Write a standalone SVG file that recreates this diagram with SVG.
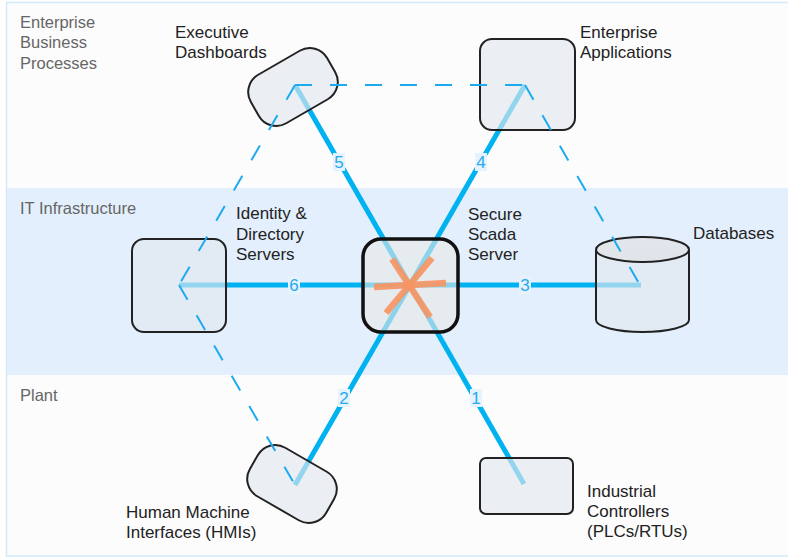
<svg xmlns="http://www.w3.org/2000/svg" width="788" height="559" viewBox="0 0 788 559">
  <style>
    .band-label { font-family: "Liberation Sans", Arial, sans-serif; font-size: 16.5px; fill: #666666; }
    .node-label { font-family: "Liberation Sans", Arial, sans-serif; font-size: 17px; fill: #222222; }
    .num { font-family: "Liberation Sans", Arial, sans-serif; font-size: 17px; fill: #29a9ef; text-anchor: middle; }
    .num-bg { fill: #e4f3fd; }
    .spoke { stroke: #00b2f0; stroke-width: 5; fill: none; stroke-linecap: butt; }
    .dash { stroke: #1eaaf0; stroke-width: 2; fill: none; stroke-dasharray: 17 18; }
    .box { fill: #e2e8ee; fill-opacity: 0.65; stroke: #222222; stroke-width: 2; }
    .hub { fill: #e8e8e8; fill-opacity: 0.6; stroke: #111111; stroke-width: 3.5; }
    .star { stroke: #f79460; stroke-width: 6.5; stroke-opacity: 0.9; fill: none; }
  </style>

  <!-- swim lanes -->
  <g id="lanes">
    <rect x="6.5" y="2.5" width="790" height="553.5" fill="#fcfcfd" stroke="#d3e9f8" stroke-width="1.5"/>
    <rect x="7" y="188" width="781" height="187" fill="#e3effc"/>
    <text class="band-label" x="20" y="28">Enterprise</text>
    <text class="band-label" x="20" y="48">Business</text>
    <text class="band-label" x="20" y="69">Processes</text>
    <text class="band-label" x="20" y="214">IT Infrastructure</text>
    <text class="band-label" x="20" y="401">Plant</text>
  </g>

  <!-- spokes from the hub to each system -->
  <g id="connectors">
    <line class="spoke" x1="410" y1="285" x2="295" y2="85"/>
    <line class="spoke" x1="410" y1="285" x2="525" y2="85"/>
    <line class="spoke" x1="410" y1="285" x2="179" y2="285"/>
    <line class="spoke" x1="410" y1="285" x2="641" y2="285"/>
    <line class="spoke" x1="410" y1="285" x2="295" y2="485"/>
    <line class="spoke" x1="410" y1="285" x2="524" y2="484"/>
  </g>

  <!-- systems -->
  <g id="executive-dashboards">
    <rect class="box" x="-44" y="-28" width="88" height="56" rx="20" transform="translate(293,87) rotate(-30)"/>
    <text class="node-label" x="175" y="38">Executive</text>
    <text class="node-label" x="175" y="58">Dashboards</text>
  </g>

  <g id="enterprise-applications">
    <rect class="box" x="480" y="39" width="95" height="91" rx="12"/>
    <text class="node-label" x="580" y="38">Enterprise</text>
    <text class="node-label" x="580" y="58">Applications</text>
  </g>

  <g id="identity-directory-servers">
    <rect class="box" x="132" y="239" width="94" height="93" rx="12"/>
    <text class="node-label" x="236" y="219">Identity &amp;</text>
    <text class="node-label" x="236" y="240">Directory</text>
    <text class="node-label" x="236" y="260">Servers</text>
  </g>

  <g id="databases">
    <path class="box" d="M596,250 L596,320 A46.5,12 0 0 0 689,320 L689,250"/>
    <ellipse cx="642.5" cy="249.5" rx="46.5" ry="12.5" fill="#dfe2e6" fill-opacity="0.7" stroke="#222222" stroke-width="2"/>
    <text class="node-label" x="693" y="239">Databases</text>
  </g>

  <g id="hmi">
    <rect class="box" x="-44" y="-28" width="88" height="56" rx="20" transform="translate(292,484) rotate(30)"/>
    <text class="node-label" x="126" y="518">Human Machine</text>
    <text class="node-label" x="126" y="538">Interfaces (HMIs)</text>
  </g>

  <g id="industrial-controllers">
    <rect class="box" x="480" y="458" width="93" height="56" rx="6"/>
    <text class="node-label" x="587" y="497">Industrial</text>
    <text class="node-label" x="587" y="517">Controllers</text>
    <text class="node-label" x="587" y="537">(PLCs/RTUs)</text>
  </g>

  <!-- dashed ring between neighbouring systems -->
  <g id="ring">
    <line class="dash" x1="295" y1="85" x2="525" y2="85"/>
    <line class="dash" x1="525" y1="85" x2="641" y2="287"/>
    <line class="dash" x1="295" y1="85" x2="179" y2="285"/>
    <line class="dash" x1="179" y1="285" x2="295" y2="485"/>
  </g>

  <g id="secure-scada-server">
    <rect class="hub" x="363" y="239" width="95" height="93" rx="18"/>
    <line class="star" x1="374" y1="287" x2="446" y2="283"/>
    <line class="star" x1="392" y1="259" x2="430" y2="317"/>
    <line class="star" x1="432" y1="258" x2="386" y2="313"/>
    <text class="node-label" x="468" y="220">Secure</text>
    <text class="node-label" x="468" y="240">Scada</text>
    <text class="node-label" x="468" y="260">Server</text>
  </g>

  <!-- spoke numbers -->
  <g id="spoke-numbers">
    <rect class="num-bg" x="333" y="153" width="12" height="18"/>
    <text class="num" x="339" y="168">5</text>
    <rect class="num-bg" x="475" y="153" width="12" height="18"/>
    <text class="num" x="481" y="168">4</text>
    <rect class="num-bg" x="288" y="276" width="12" height="18"/>
    <text class="num" x="294" y="291">6</text>
    <rect class="num-bg" x="519" y="276" width="12" height="18"/>
    <text class="num" x="525" y="291">3</text>
    <rect class="num-bg" x="338" y="389" width="12" height="18"/>
    <text class="num" x="344" y="404">2</text>
    <rect class="num-bg" x="470" y="389" width="12" height="18"/>
    <text class="num" x="476" y="404">1</text>
  </g>
</svg>
